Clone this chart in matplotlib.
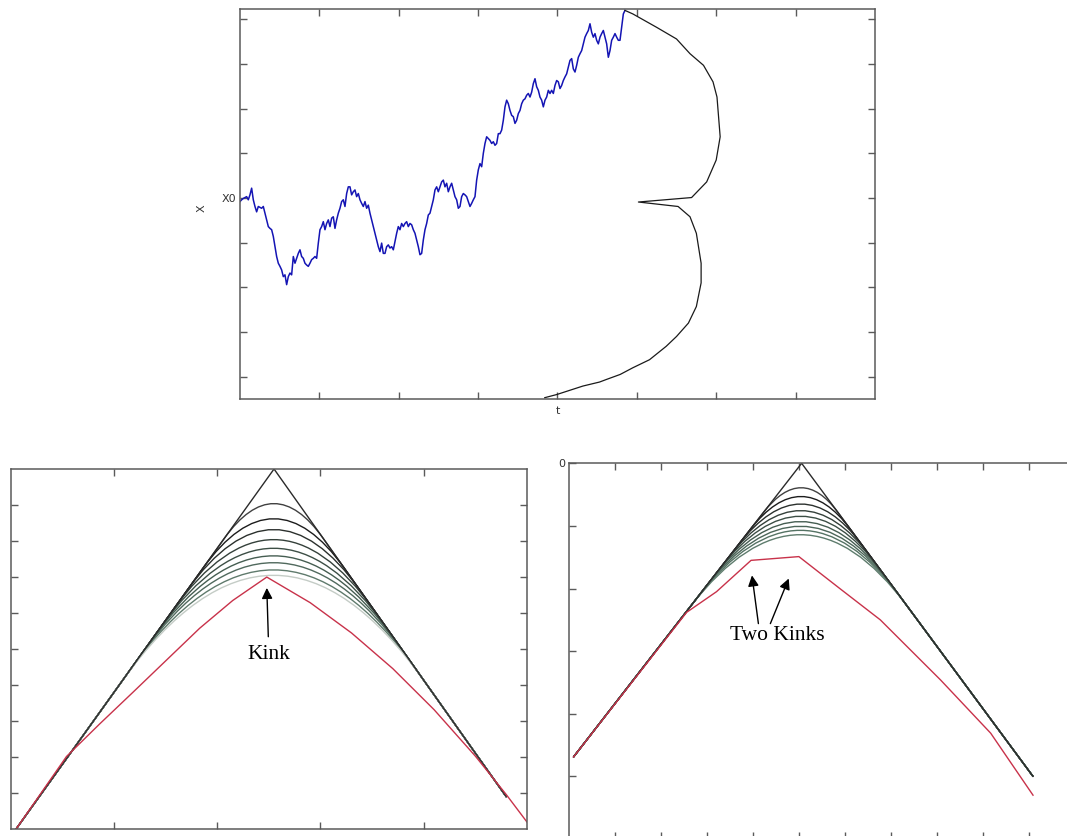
import numpy as np
import matplotlib.pyplot as plt
from matplotlib.path import Path
from matplotlib.patches import PathPatch

# --- top panel: sample path X(t) started at X0, and the stopping boundary
walk_dt = 0.021
walk_x = [
    -0.08, -0.04, -0.01, 0.01, 0.03, -0.04, 0.07, 0.22, -0.04, -0.19,
    -0.31, -0.19, -0.21, -0.23, -0.19, -0.34, -0.49, -0.64, -0.68, -0.71,
    -0.86, -1.09, -1.31, -1.46, -1.53, -1.61, -1.76, -1.72, -1.94, -1.76,
    -1.68, -1.72, -1.31, -1.46, -1.35, -1.24, -1.16, -1.31, -1.35, -1.46,
    -1.50, -1.53, -1.46, -1.38, -1.35, -1.31, -1.35, -1.01, -0.71, -0.64,
    -0.53, -0.71, -0.57, -0.49, -0.64, -0.45, -0.42, -0.68, -0.49, -0.34,
    -0.23, -0.08, -0.04, -0.19, 0.10, 0.25, 0.25, 0.07, 0.14, 0.18,
    0.03, 0.10, -0.04, -0.12, -0.19, -0.08, -0.23, -0.16, -0.34, -0.49,
    -0.64, -0.79, -0.94, -1.09, -1.20, -1.01, -1.24, -1.24, -1.09, -1.05,
    -1.12, -1.09, -1.16, -0.97, -0.79, -0.64, -0.71, -0.57, -0.64, -0.57,
    -0.53, -0.64, -0.57, -0.60, -0.71, -0.79, -0.94, -1.09, -1.27, -1.24,
    -0.94, -0.71, -0.57, -0.38, -0.34, -0.19, -0.04, 0.18, 0.25, 0.14,
    0.25, 0.36, 0.40, 0.25, 0.33, 0.14, 0.25, 0.33, 0.18, 0.03,
    -0.04, -0.23, -0.19, 0.03, 0.10, 0.07, 0.03, -0.08, -0.19, -0.12,
    -0.04, 0.03, 0.40, 0.63, 0.77, 0.70, 1.00, 1.22, 1.37, 1.33,
    1.29, 1.22, 1.26, 1.18, 1.22, 1.44, 1.44, 1.52, 1.74, 2.04,
    2.19, 2.11, 1.96, 1.85, 1.82, 1.67, 1.74, 1.89, 1.96, 2.11,
    2.19, 2.22, 2.30, 2.34, 2.26, 2.37, 2.56, 2.67, 2.49, 2.41,
    2.26, 2.19, 2.04, 2.19, 2.26, 2.41, 2.34, 2.41, 2.34, 2.52,
    2.63, 2.60, 2.45, 2.52, 2.63, 2.71, 2.78, 2.93, 3.08, 3.12,
    2.89, 2.82, 2.97, 3.15, 3.23, 3.30, 3.45, 3.60, 3.68, 3.75,
    3.90, 3.71, 3.60, 3.68, 3.53, 3.45, 3.60, 3.68, 3.75, 3.60,
    3.45, 3.15, 3.30, 3.53, 3.60, 3.68, 3.60, 3.53, 3.53, 3.82,
    4.12, 4.20,
]
bound_t = [4.85, 4.95, 5.25, 5.50, 5.67, 5.84, 5.96, 6.01, 6.05, 6.00,
           5.88, 5.69, 5.02, 5.52, 5.67, 5.75, 5.81, 5.81, 5.75, 5.65,
           5.50, 5.37, 5.16, 4.95, 4.79, 4.62, 4.53, 4.32, 3.99, 3.84]
bound_x = [4.20, 4.12, 3.82, 3.56, 3.23, 2.97, 2.60, 2.26, 1.37, 0.85,
           0.36, 0.01, -0.09, -0.19, -0.42, -0.79, -1.46, -1.90, -2.43, -2.80,
           -3.10, -3.32, -3.62, -3.80, -3.95, -4.06, -4.12, -4.21, -4.40, -4.47]

# --- bottom-left panel: payoff tent, value curves, and the kinked one
tent1_x = [0.05, 2.55, 4.80]
tent1_y = [0.0, 10.0, 0.90]
caps1 = [9.04, 8.62, 8.32, 8.04, 7.80, 7.59, 7.40, 7.20, 7.05]
red1_x = [0.05, 0.54, 0.86, 1.19, 1.51, 1.83, 2.15, 2.48,
          2.90, 3.30, 3.70, 4.10, 4.50, 4.80, 5.00]
red1_y = [0.0, 2.02, 2.92, 3.82, 4.70, 5.58, 6.35, 7.00,
          6.29, 5.45, 4.46, 3.32, 2.03, 0.96, 0.20]

# --- bottom-right panel: same picture with two kinks
tent2_x = [0.09, 5.05, 10.08]
tent2_y = [-4.69, 0.0, -5.00]
caps2 = [-0.39, -0.53, -0.65, -0.755, -0.845, -0.93, -1.005, -1.07, -1.14]
red2_x = [0.09, 2.55, 3.20, 3.95, 4.99, 5.88, 6.76, 8.07, 9.16, 10.08]
red2_y = [-4.69, -2.38, -2.05, -1.55, -1.49, -2.00, -2.50, -3.46, -4.31, -5.30]

cap_colors1 = ['#404040', '#1c1c1c', '#2b302d', '#34403a', '#3c4e45',
               '#455d51', '#50695d', '#5f7a6c', '#c4ccc6']
cap_colors2 = ['#404040', '#1c1c1c', '#2b302d', '#34403a', '#3c4e45',
               '#455d51', '#4c6659', '#557364', '#5e7c6d']
SPINE = '#5a5a5a'
RED = '#c8324a'


def style_axes(ax):
    for s in ax.spines.values():
        s.set_color(SPINE)
        s.set_linewidth(1.1)
    ax.tick_params(direction='in', length=5, width=1, color=SPINE,
                   top=True, right=True, labelsize=8, labelcolor='#333333')


def draw_family(ax, tx, ty, caps, colors):
    # each value curve follows the tent and rounds off the apex
    x0, xa, x1 = tx
    y0, ya, y1 = ty
    sl = (ya - y0) / (xa - x0)
    sr = (ya - y1) / (x1 - xa)
    for c, col in zip(caps, colors):
        d = ya - c
        wl, wr = 2 * d / sl, 2 * d / sr
        verts = [(x0, y0), (xa - wl, ya - 2 * d), (xa, ya),
                 (xa + wr, ya - 2 * d), (x1, y1)]
        codes = [Path.MOVETO, Path.LINETO, Path.CURVE3, Path.CURVE3, Path.LINETO]
        ax.add_patch(PathPatch(Path(verts, codes), facecolor='none',
                               edgecolor=col, lw=1.0))
    ax.plot(tx, ty, color='#2a2a2a', lw=1.0)


fig = plt.figure(figsize=(10.67, 8.36), dpi=100)

# top panel
ax = fig.add_axes([0.2249, 0.5227, 0.5951, 0.4665])
t = np.arange(len(walk_x)) * walk_dt
ax.plot(t, walk_x, color='#1414b4', lw=1.1)
ax.plot(bound_t, bound_x, color='#1a1a1a', lw=0.9)
ax.set_xlim(0, 8)
ax.set_ylim(-4.50, 4.23)
ax.set_xticks(range(1, 8))
ax.set_xticklabels([])
ax.set_yticks(range(-4, 5))
ax.set_yticklabels(['X0' if k == 0 else '' for k in range(-4, 5)])
style_axes(ax)
ax.tick_params(axis='y', pad=3)
ax.set_xlabel('t', fontsize=8, color='#333333')
ax.xaxis.set_label_coords(0.5, -0.018)
ax.set_ylabel('X', fontsize=8, color='#333333')
ax.yaxis.set_label_coords(-0.052, 0.49)

# bottom-left panel
ax1 = fig.add_axes([0.01003, 0.00801, 0.4839, 0.4310])
draw_family(ax1, tent1_x, tent1_y, caps1, cap_colors1)
ax1.plot(red1_x, red1_y, color=RED, lw=1.0)
ax1.set_xlim(0, 5)
ax1.set_ylim(0, 10)
ax1.set_xticks(range(1, 5))
ax1.set_yticks(range(1, 10))
ax1.set_xticklabels([])
ax1.set_yticklabels([])
style_axes(ax1)
ax1.annotate('Kink', xy=(2.48, 6.70), xytext=(2.50, 4.85),
             ha='center', va='center', fontsize=15.5, family='Liberation Serif',
             arrowprops=dict(arrowstyle='-|>', color='black', lw=1.0,
                             mutation_scale=16, shrinkA=4, shrinkB=0))

# bottom-right panel (extends past the figure edge on the right and bottom)
ax2 = fig.add_axes([0.5336, -0.00359, 0.4742, 0.4494])
draw_family(ax2, tent2_x, tent2_y, caps2, cap_colors2)
ax2.plot(red2_x, red2_y, color=RED, lw=1.0)
ax2.set_xlim(0, 11)
ax2.set_ylim(-6, 0)
ax2.set_xticks(range(1, 11))
ax2.set_yticks(range(-5, 1))
ax2.set_xticklabels([])
ax2.set_yticklabels(['' if k else '0' for k in range(-5, 1)])
style_axes(ax2)
ax2.tick_params(axis='y', pad=3)
ax2.text(4.52, -2.75, 'Two Kinks', ha='center', va='center',
         fontsize=15.5, family='Liberation Serif')
for x_tail, x_head, y_head in [(4.11, 3.97, -1.79), (4.37, 4.77, -1.84)]:
    ax2.annotate('', xy=(x_head, y_head), xytext=(x_tail, -2.56),
                 arrowprops=dict(arrowstyle='-|>', color='black', lw=1.0,
                                 mutation_scale=16, shrinkA=0, shrinkB=0))

fig.savefig('out.png', dpi=100)
